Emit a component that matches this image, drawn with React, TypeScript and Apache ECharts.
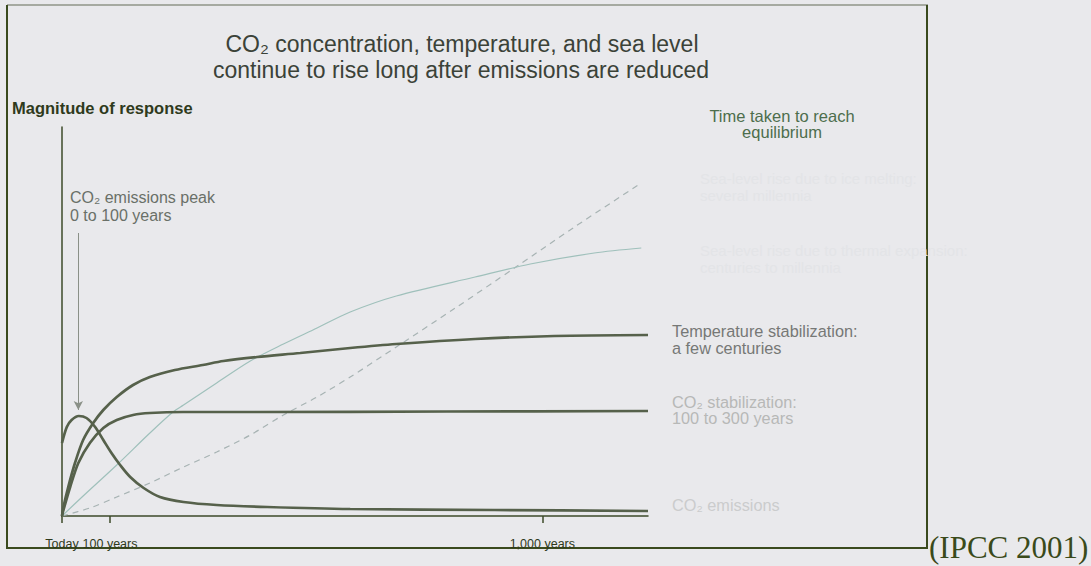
import React, { useEffect, useRef } from 'react';
import * as echarts from 'echarts';

// ---- data (years after today, relative magnitude) ----
const tickYears = [0, 100, 1000];
const tickLabels = ['Today', '100 years', '1,000 years'];

const emissionsYears = [0, 10, 20, 35, 51, 69, 86, 103, 121, 142, 170, 204, 253, 322, 427, 600, 900, 1220];
const emissionsValues = [73, 89, 96, 100, 98, 89, 76, 63, 51, 39, 28, 19, 14, 11, 9, 7, 6, 5];

const co2StabYears = [0, 3, 17, 34, 58, 86, 114, 148, 183, 252, 400, 800, 1220];
const co2StabValues = [0, 6, 29, 53, 73, 88, 96, 101, 103, 104, 104, 104.5, 105];

const tempYears = [0, 3, 13, 27, 44, 65, 86, 114, 148, 183, 235, 293, 336, 406, 496, 600, 696, 860, 1025, 1220];
const tempValues = [0, 9, 29, 53, 76, 93, 106, 119, 131, 139, 146, 151, 155, 159, 163, 168, 172, 177, 180, 181];

const thermalYears = [0, 44, 114, 183, 231, 253, 322, 392, 461, 531, 600, 696, 860, 975, 1108, 1206];
const thermalValues = [0, 20, 51, 83, 104, 111, 133, 155, 172, 188, 204, 220, 239, 252, 263, 268];

const iceYears = [0, 58, 114, 183, 253, 322, 392, 461, 531, 600, 696, 819, 942, 1067, 1206];
const iceValues = [0, 8, 19, 33, 49, 64, 81, 101, 119, 139, 169, 208, 248, 289, 333];

const arrowYear = 34;
const arrowFrom = 283;
const arrowTo = 106;

const pair = (xs: number[], ys: number[]) => xs.map((x, i) => [x, ys[i]]);

const FONT = '"Liberation Sans", Arial, Helvetica, sans-serif';
const DARK = '#56614b';

export default function App() {
  const ref = useRef<HTMLDivElement>(null);
  useEffect(() => {
    if (!ref.current) return;
    const chart = echarts.init(ref.current, null, { renderer: 'svg' });
    const txt = (x: number, y: number, text: string, size: number, fill: string, extra: any = {}) => ({
      type: 'text',
      x,
      y,
      silent: true,
      style: {
        text,
        fontSize: size,
        fontFamily: FONT,
        fill,
        verticalAlign: 'middle',
        align: 'left',
        ...extra,
      },
    });
    const line = (name: string, xs: number[], ys: number[], lineStyle: any, extra: any = {}) => ({
      name,
      type: 'line',
      data: pair(xs, ys),
      smooth: 0.3,
      showSymbol: false,
      lineStyle,
      ...extra,
    });
    const option: any = {
      animation: false,
      backgroundColor: '#e9e9ec',
      grid: { left: 62, right: 443, top: 127, bottom: 50 },
      xAxis: {
        type: 'value',
        min: 0,
        max: 1220,
        axisLine: { show: true, lineStyle: { color: '#3d4a2a', width: 1.5 } },
        axisTick: { show: true, customValues: tickYears, length: 7, lineStyle: { color: '#3d4a2a', width: 1.5 } },
        axisLabel: {
          show: true,
          customValues: tickYears,
          formatter: (v: number) => tickLabels[tickYears.indexOf(v)] ?? '',
          fontSize: 12.5,
          fontFamily: FONT,
          color: '#2f3a1c',
          margin: 21,
        },
        splitLine: { show: false },
      },
      yAxis: {
        type: 'value',
        min: 0,
        max: 389,
        axisLine: { show: true, lineStyle: { color: '#3d4a2a', width: 1.5 } },
        axisTick: { show: false },
        axisLabel: { show: false },
        splitLine: { show: false },
      },
      series: [
        line('Sea-level rise due to ice melting', iceYears, iceValues, { color: '#a7b3b3', width: 1.2, type: [6, 5] }),
        line('Sea-level rise due to thermal expansion', thermalYears, thermalValues, { color: '#9fc0bb', width: 1.2 }),
        line('Temperature stabilization', tempYears, tempValues, { color: DARK, width: 2.7 }),
        line('CO2 stabilization', co2StabYears, co2StabValues, { color: DARK, width: 2.7 }),
        line('CO2 emissions', emissionsYears, emissionsValues, { color: DARK, width: 2.7 }, {
          markLine: {
            silent: true,
            symbol: ['none', 'arrow'],
            symbolSize: [7, 9],
            label: { show: false },
            lineStyle: { color: '#8a9087', width: 1, type: 'solid' },
            data: [[{ coord: [arrowYear, arrowFrom] }, { coord: [arrowYear, arrowTo] }]],
          },
        }),
      ],
      graphic: [
        // frame
        { type: 'line', silent: true, shape: { x1: 7, y1: 5, x2: 928, y2: 5 }, style: { stroke: '#8f9488', lineWidth: 1.5 } },
        { type: 'line', silent: true, shape: { x1: 7, y1: 5, x2: 7, y2: 549 }, style: { stroke: '#3a4a1e', lineWidth: 2 } },
        { type: 'line', silent: true, shape: { x1: 927, y1: 5, x2: 927, y2: 549 }, style: { stroke: '#3a4a1e', lineWidth: 2 } },
        { type: 'line', silent: true, shape: { x1: 7, y1: 548, x2: 928, y2: 548 }, style: { stroke: '#3a4a1e', lineWidth: 2 } },
        // title
        txt(462, 44, 'CO₂ concentration, temperature, and sea level', 23, '#3b4238', { align: 'center' }),
        txt(461, 69.5, 'continue to rise long after emissions are reduced', 23, '#3b4238', { align: 'center' }),
        // y axis name
        txt(12, 108, 'Magnitude of response', 16.5, '#2f3a1c', { fontWeight: 'bold' }),
        // annotation
        txt(70, 206.5, 'CO₂ emissions peak\n0 to 100 years', 16, '#6a7068', { lineHeight: 18 }),
        // right labels
        txt(782, 124, 'Time taken to reach\nequilibrium', 16.5, '#4d6e4d', { align: 'center', lineHeight: 16 }),
        txt(700, 186.5, 'Sea-level rise due to ice melting:\nseveral millennia', 15, '#e3e4e7', { lineHeight: 17 }),
        txt(700, 258.5, 'Sea-level rise due to thermal expansion:\ncenturies to millennia', 15, '#e3e4e7', { lineHeight: 17 }),
        txt(672, 339.5, 'Temperature stabilization:\na few centuries', 16.3, '#767876', { lineHeight: 17 }),
        txt(672, 410, 'CO₂ stabilization:\n100 to 300 years', 16.3, '#b7b8b7', { lineHeight: 16 }),
        txt(672, 505, 'CO₂ emissions', 16.3, '#cbcccd'),
        // source
        txt(929, 547, '(IPCC 2001)', 31, '#3a4a1a', { fontFamily: '"Liberation Serif", "Times New Roman", serif' }),
      ],
    };
    chart.setOption(option);
    return () => chart.dispose();
  }, []);
  return <div ref={ref} style={{ position: 'fixed', left: 0, top: 0, width: 1091, height: 566 }} />;
}
